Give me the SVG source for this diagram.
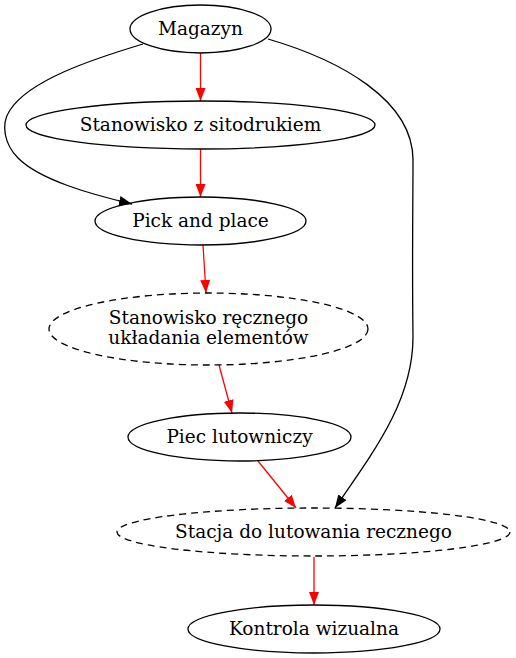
<svg xmlns="http://www.w3.org/2000/svg" width="516" height="658" viewBox="0 0 516 658">
<style>
.n ellipse{fill:none;stroke:#000;stroke-width:1.3}
.d ellipse{stroke-dasharray:7,5}
text{font-family:"DejaVu Serif","Liberation Serif",serif;font-size:18.5px;text-anchor:middle;fill:#000}
.e path{fill:none;stroke-width:1.3}
.r{stroke:#f00}
.k{stroke:#000}
</style>
<defs>
<marker id="ar" viewBox="0 0 13 10" refX="13" refY="5" markerWidth="13" markerHeight="10" markerUnits="userSpaceOnUse" orient="auto"><path d="M0,0 L13,5 L0,10 z" fill="#f00"/></marker>
<marker id="ak" viewBox="0 0 13 10" refX="13" refY="5" markerWidth="13" markerHeight="10" markerUnits="userSpaceOnUse" orient="auto"><path d="M0,0 L13,5 L0,10 z" fill="#000"/></marker>
</defs>
<g id="edges" class="e">
<path class="r" d="M200.5,53 L200.5,101" marker-end="url(#ar)"/>
<path class="r" d="M200.5,149 L200.5,197" marker-end="url(#ar)"/>
<path class="k" d="M143,44 C90,60 30,80 10,110 C0,125 5,145 18,158 C40,180 90,194 132,204" marker-end="url(#ak)"/>
<path class="r" d="M203,245 L206,293" marker-end="url(#ar)"/>
<path class="r" d="M219,365 L232,413" marker-end="url(#ar)"/>
<path class="r" d="M258,461 L296,508" marker-end="url(#ar)"/>
<path class="k" d="M268,39 C340,60 413,100 413,160 C413,200 412,260 413,337 C413,400 375,450 335,508" marker-end="url(#ak)"/>
<path class="r" d="M314,557 L314,605" marker-end="url(#ar)"/>
</g>
<g id="magazyn" class="n"><ellipse cx="200.5" cy="29" rx="70.5" ry="24"/><text x="200.5" y="35">Magazyn</text></g>
<g id="sitodruk" class="n"><ellipse cx="200.5" cy="125" rx="174.5" ry="24"/><text x="200.5" y="131">Stanowisko z sitodrukiem</text></g>
<g id="pickplace" class="n"><ellipse cx="200.5" cy="221" rx="105.5" ry="24"/><text x="200.5" y="227">Pick and place</text></g>
<g id="reczne" class="n d"><ellipse cx="208.5" cy="329" rx="159.5" ry="36"/><text x="208.5" y="324">Stanowisko ręcznego</text><text x="208.5" y="344">układania elementów</text></g>
<g id="piec" class="n"><ellipse cx="239.5" cy="437" rx="111.5" ry="24"/><text x="239.5" y="443">Piec lutowniczy</text></g>
<g id="stacja" class="n d"><ellipse cx="313.5" cy="532" rx="196.5" ry="24"/><text x="313.5" y="538">Stacja do lutowania recznego</text></g>
<g id="kontrola" class="n"><ellipse cx="314" cy="629" rx="126" ry="24"/><text x="314" y="635">Kontrola wizualna</text></g>
</svg>
